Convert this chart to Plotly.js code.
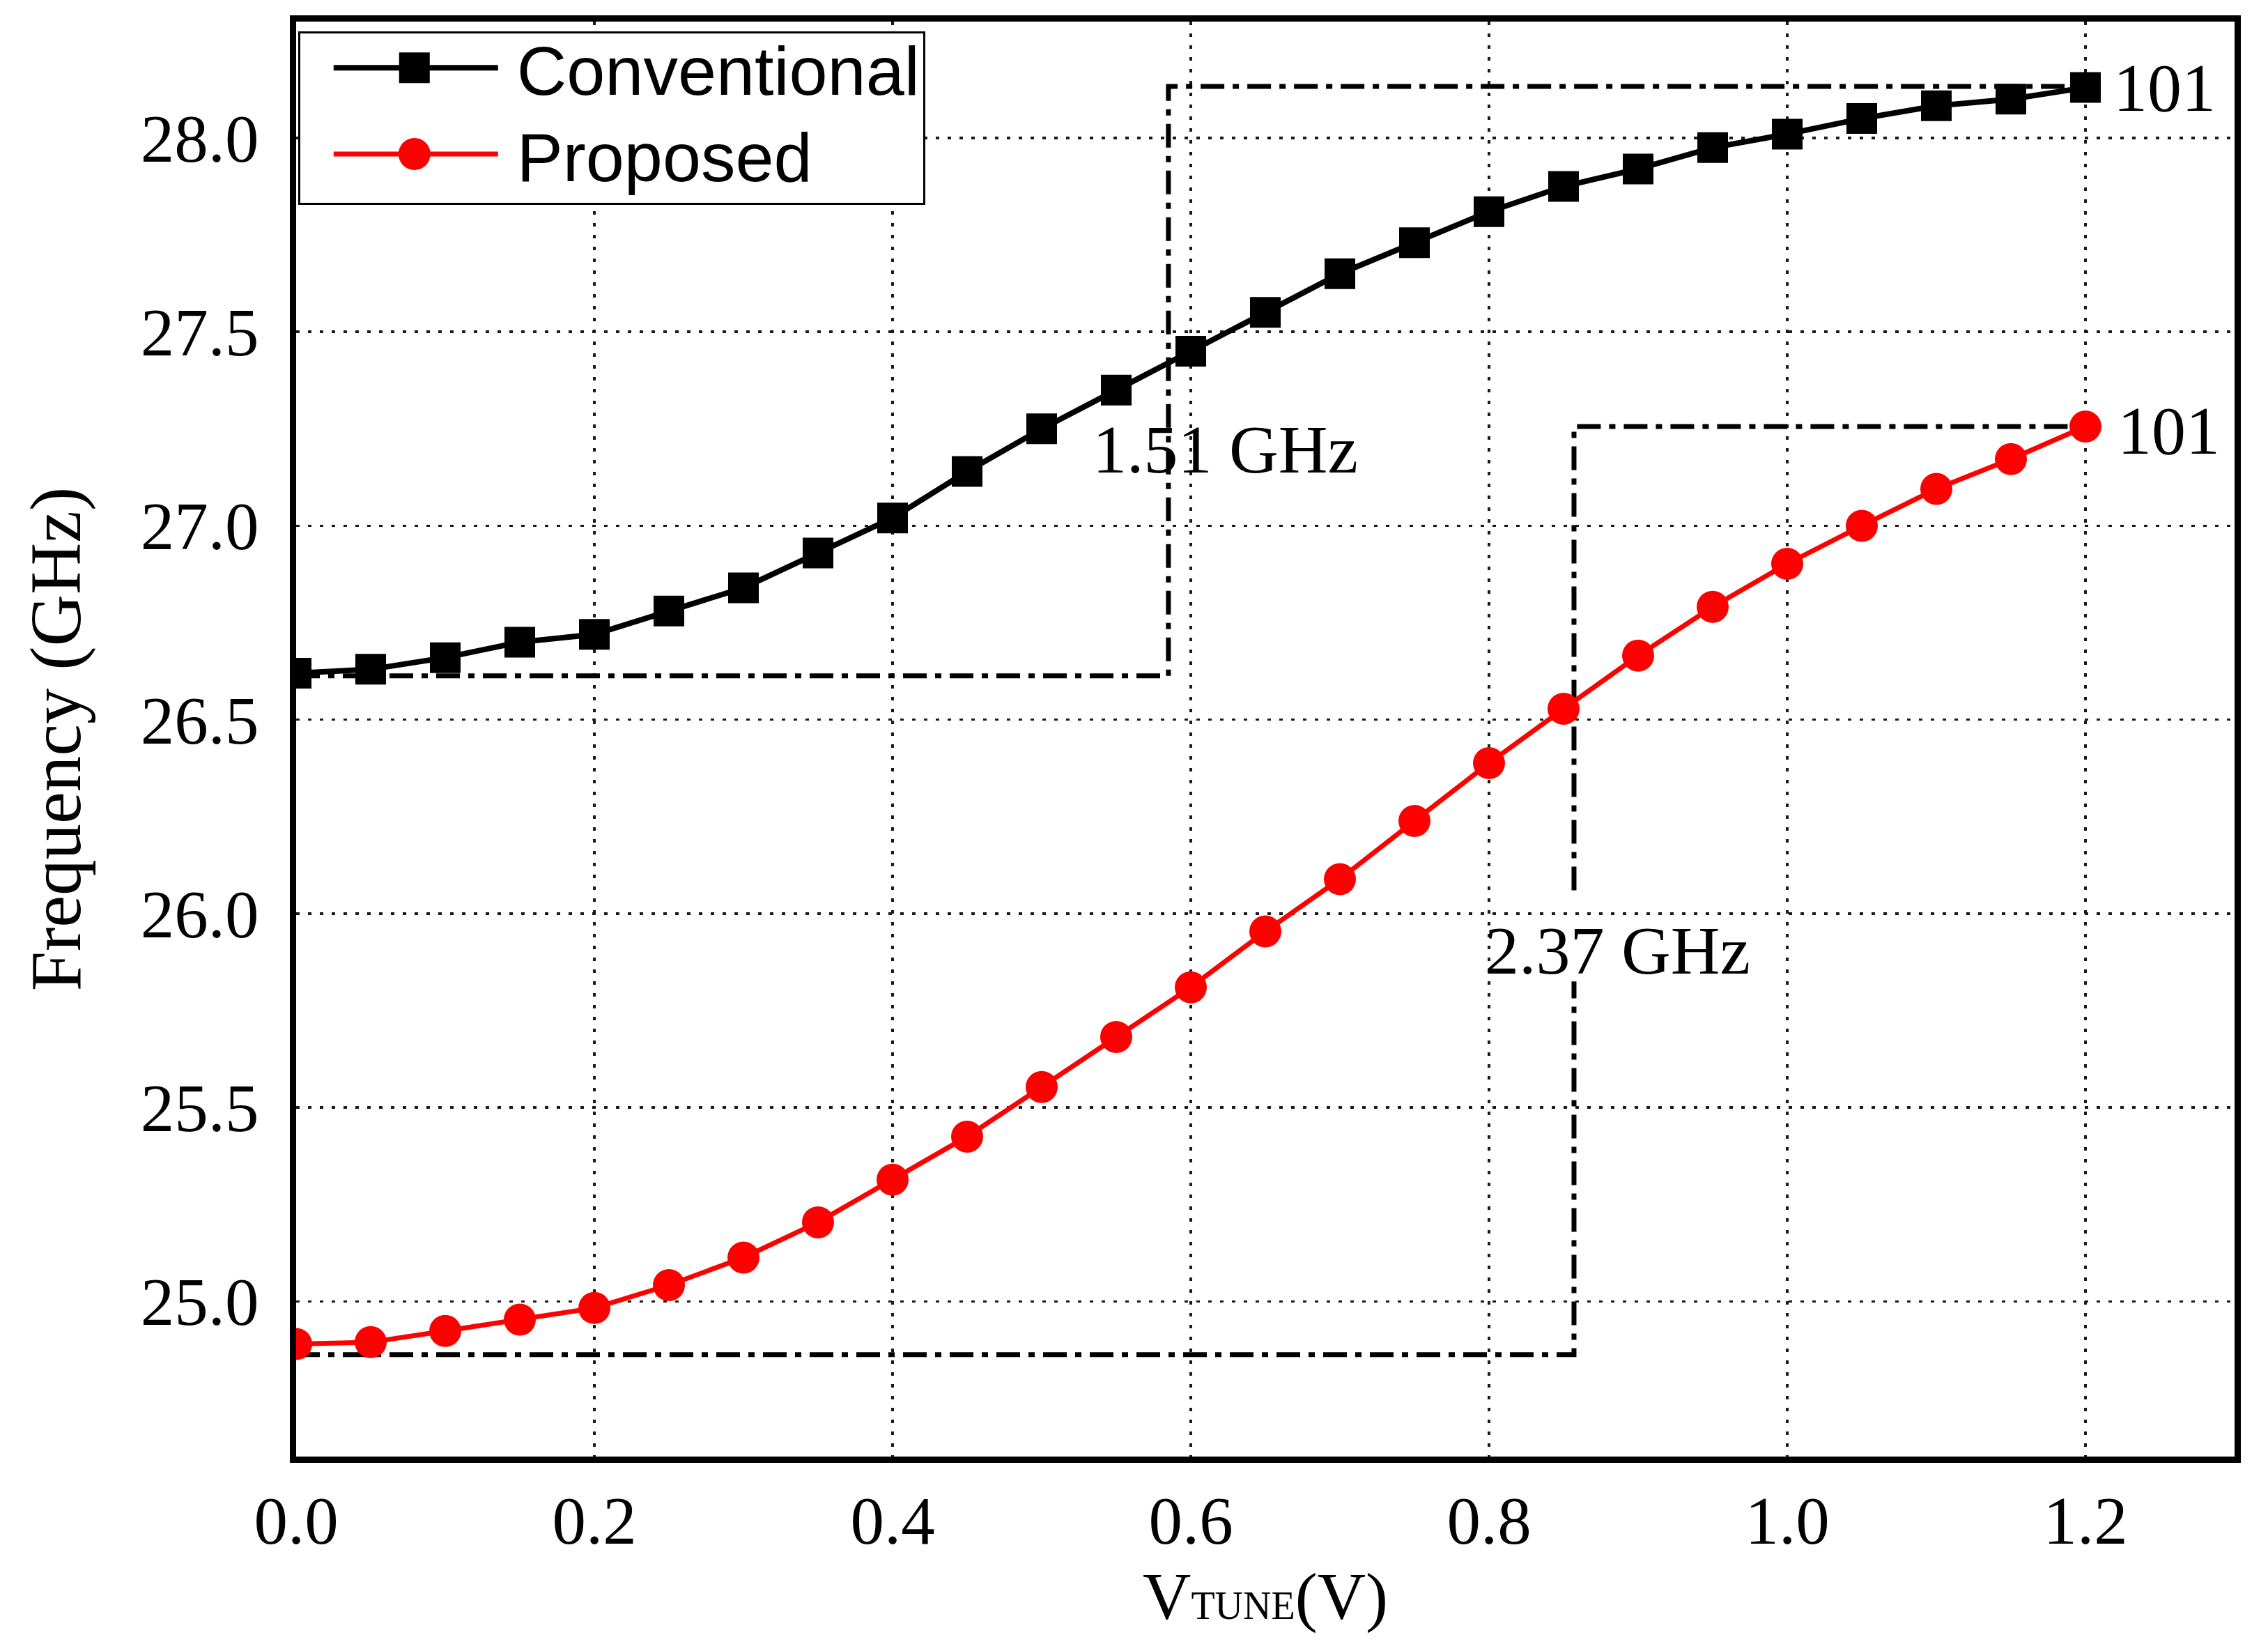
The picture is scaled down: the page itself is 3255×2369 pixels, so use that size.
<!DOCTYPE html>
<html>
<head>
<meta charset="utf-8">
<script src="https://cdn.plot.ly/plotly-3.0.1.min.js"></script>
<style>
  html, body { margin: 0; padding: 0; background: #fff; }
  #chart { width: 3255px; height: 2369px; }
</style>
</head>
<body>
<div id="chart"></div>
<script>
// tuning voltage (V)
const vtune = [0.00, 0.05, 0.10, 0.15, 0.20, 0.25, 0.30, 0.35, 0.40, 0.45, 0.50, 0.55, 0.60,
               0.65, 0.70, 0.75, 0.80, 0.85, 0.90, 0.95, 1.00, 1.05, 1.10, 1.15, 1.20];

// oscillation frequency (GHz)
const conventional = [26.62, 26.63, 26.66, 26.70, 26.72, 26.78, 26.84, 26.93, 27.02, 27.14, 27.25, 27.35, 27.45,
                      27.55, 27.65, 27.73, 27.81, 27.875, 27.92, 27.975, 28.01, 28.05, 28.083, 28.10, 28.13];
const proposed = [24.89, 24.895, 24.924, 24.953, 24.983, 25.042, 25.113, 25.204, 25.314, 25.425, 25.553, 25.682, 25.81,
                  25.954, 26.089, 26.239, 26.388, 26.528, 26.665, 26.791, 26.902, 27.0, 27.095, 27.172, 27.256];

// tuning-range brackets (dash-dot)
const convBracketX = [0, 0.585, 0.585, 1.2];
const convBracketY = [26.613, 26.613, 28.133, 28.133];
const propBracketX = [0, 0.857, 0.857, null, 0.857, 0.857, 1.2];
const propBracketY = [24.863, 24.863, 25.825, null, 26.06, 27.256, 27.256];

const rangeLabels = ["1.51 GHz", "2.37 GHz"];
const rangeLabelX = [0.623, 0.886];
const rangeLabelY = [27.197, 25.904];
const pointCount = "101";

const serif = "Liberation Serif, Times New Roman, serif";
const sans = "Liberation Sans, Arial, sans-serif";
const bracketDash = "34px,12px,9px,12px";

const last = vtune.length - 1;

const traces = [
  {
    x: convBracketX, y: convBracketY,
    mode: "lines",
    line: { color: "black", width: 7, dash: bracketDash },
    showlegend: false, hoverinfo: "skip"
  },
  {
    x: propBracketX, y: propBracketY,
    mode: "lines",
    connectgaps: false,
    line: { color: "black", width: 7, dash: bracketDash },
    showlegend: false, hoverinfo: "skip"
  },
  {
    x: vtune, y: conventional,
    name: "Conventional",
    mode: "lines+markers",
    line: { color: "black", width: 8 },
    marker: { symbol: "square", size: 44, color: "black" }
  },
  {
    x: vtune, y: proposed,
    name: "Proposed",
    mode: "lines+markers",
    line: { color: "#ff0000", width: 7 },
    marker: { symbol: "circle", size: 46, color: "#ff0000" }
  }
];

const annotations = [
  {
    x: rangeLabelX[0], y: rangeLabelY[0], text: rangeLabels[0],
    showarrow: false, font: { family: serif, size: 98, color: "black" }
  },
  {
    x: rangeLabelX[1], y: rangeLabelY[1], text: rangeLabels[1],
    showarrow: false, font: { family: serif, size: 98, color: "black" }
  },
  {
    x: vtune[last], y: conventional[last], text: pointCount,
    xanchor: "left", xshift: 38, showarrow: false,
    font: { family: serif, size: 98, color: "black" }
  },
  {
    x: vtune[last], y: proposed[last], text: pointCount,
    xanchor: "left", xshift: 44, yshift: -6, showarrow: false,
    font: { family: serif, size: 98, color: "black" }
  }
];

const layout = {
  width: 3255,
  height: 2369,
  margin: { l: 425, r: 48, t: 31, b: 279 },
  paper_bgcolor: "white",
  plot_bgcolor: "white",
  font: { family: serif, color: "black" },
  showlegend: true,
  legend: {
    x: 0.001, y: 0.993,
    xanchor: "left", yanchor: "top",
    bgcolor: "white",
    bordercolor: "black",
    borderwidth: 3,
    itemwidth: 301,
    font: { family: sans, size: 99, color: "black" }
  },
  xaxis: {
    range: [0, 1.3],
    tickvals: [0, 0.2, 0.4, 0.6, 0.8, 1.0, 1.2],
    tickformat: ".1f",
    tickfont: { family: serif, size: 97 },
    ticks: "",
    ticklabelstandoff: 0,
    showline: true, mirror: true, linecolor: "black", linewidth: 9,
    showgrid: true, gridcolor: "#1a1a1a", gridwidth: 3.5, griddash: "5px,12px",
    zeroline: false,
    title: {
      text: 'V<span style="font-size:56px">TUNE</span>(V)',
      font: { family: serif, size: 96 },
      standoff: 24
    }
  },
  yaxis: {
    range: [24.6, 28.3],
    tickvals: [25.0, 25.5, 26.0, 26.5, 27.0, 27.5, 28.0],
    tickformat: ".1f",
    tickfont: { family: serif, size: 97 },
    ticks: "",
    ticklabelstandoff: 25,
    showline: true, mirror: true, linecolor: "black", linewidth: 9,
    showgrid: true, gridcolor: "#1a1a1a", gridwidth: 3.5, griddash: "5px,12px",
    zeroline: false,
    title: {
      text: "Frequency (GHz)",
      font: { family: serif, size: 103 },
      standoff: 55
    }
  },
  annotations: annotations
};

// legend glyphs in Plotly are capped in size; widen the line and enlarge the marker
// so the legend looks like the original figure
const legendGlyphs = {
  Conventional: { d: "M22,22H-22V-22H22Z", width: 8, dy: -22 },
  Proposed: { d: "M23,0A23,23 0 1,1 0,-23A23,23 0 0,1 23,0Z", width: 7, dy: -30 }
};
const legendShrink = 31;

Plotly.newPlot("chart", traces, layout, { displayModeBar: false, staticPlot: true }).then(gd => {
  gd.querySelectorAll(".legend .traces").forEach(item => {
    const label = item.querySelector("text.legendtext");
    if (!label) return;
    const glyph = legendGlyphs[label.textContent];
    if (!glyph) return;
    const tx = parseFloat(label.getAttribute("x")) || 0;
    const line = item.querySelector(".legendlines path");
    if (line) {
      line.setAttribute("d", "M" + (tx - 263) + ",0h236");
      line.style.strokeWidth = glyph.width + "px";
    }
    item.querySelectorAll(".legendpoints path").forEach(p => {
      p.setAttribute("transform", "translate(" + (tx - 147) + ",0)");
      p.setAttribute("d", glyph.d);
    });
    // tighter row spacing, as in the original
    const m = /translate\(\s*([-\d.e]+)[ ,]+([-\d.e]+)\s*\)/.exec(item.getAttribute("transform") || "");
    if (m) {
      item.setAttribute("transform",
        "translate(" + m[1] + "," + (parseFloat(m[2]) + glyph.dy) + ")");
    }
  });
  const bg = gd.querySelector(".legend rect.bg");
  if (bg) {
    bg.setAttribute("height", parseFloat(bg.getAttribute("height")) - legendShrink);
  }
});
</script>
</body>
</html>
